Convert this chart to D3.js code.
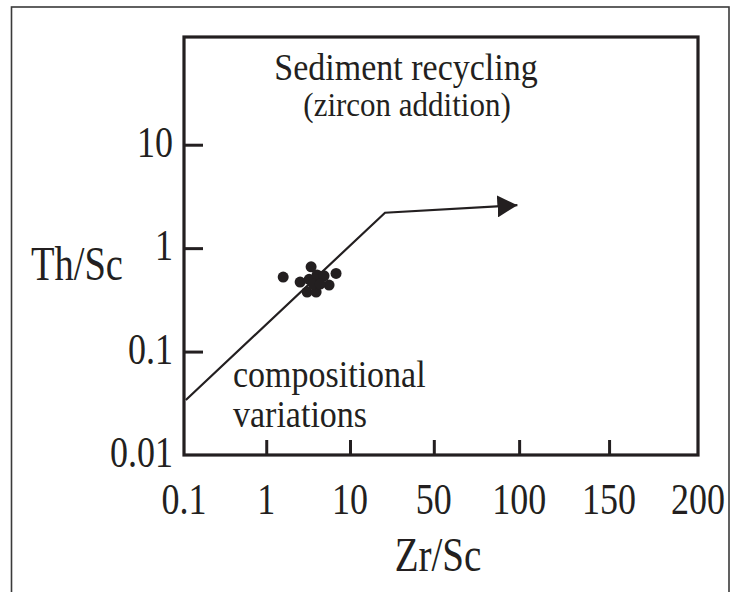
<!DOCTYPE html>
<html>
<head>
<meta charset="utf-8">
<script src="https://cdn.jsdelivr.net/npm/d3@7"></script>
<style>
  html, body { margin: 0; padding: 0; background: #fff; }
  svg { display: block; }
  text { font-family: "Liberation Serif", "Times New Roman", serif; fill: #231f20; }
</style>
</head>
<body>
<div id="chart"></div>
<script>
// ---- data ----
const xTickValues = [0.1, 1, 10, 50, 100, 150, 200];
const xTickLabels = ["0.1", "1", "10", "50", "100", "150", "200"];
const yTickValues = [0.01, 0.1, 1, 10];
const yTickLabels = ["0.01", "0.1", "1", "10"];

// sample points (Zr/Sc, Th/Sc)
const zrSc = [2.82, 5.82, 8.5, 4.64, 5.61, 6.46, 7.21, 7.75, 5.39, 6.36, 6.04, 6.79];
const thSc = [0.525, 0.66, 0.57, 0.47, 0.50, 0.55, 0.54, 0.44, 0.376, 0.376, 0.45, 0.45];

// trend (compositional variations -> sediment recycling)
const trendZr = [0.12, 26.7, 99];
const trendTh = [0.034, 2.2, 2.6];

const annotations = ["Sediment recycling", "(zircon addition)", "compositional", "variations"];
const xTitle = "Zr/Sc";
const yTitle = "Th/Sc";

// ---- layout ----
const W = 730, H = 592;
const pLeft = 184, pRight = 698, pTop = 37, pBottom = 455;
const xFrac = [0, 0.16, 0.323, 0.486, 0.652, 0.827, 1];
const ink = "#231f20";
const axisStretch = 1.25;   // tall, condensed-looking glyphs of the original
const noteStretch = 1.1;

const svg = d3.select("#chart").append("svg").attr("width", W).attr("height", H);

function addText(g, tx, ty, str, size, anchor, stretch) {
  return g.append("text")
    .attr("transform", `translate(${tx},${ty}) scale(1,${stretch})`)
    .attr("text-anchor", anchor)
    .attr("font-size", size)
    .text(str);
}

// outer frame
svg.append("rect")
  .attr("x", 11.5).attr("y", 7).attr("width", 717.5).attr("height", 600)
  .attr("fill", "none").attr("stroke", "#3a3a3a").attr("stroke-width", 1.6);

const x = d3.scaleLinear()
  .domain(xTickValues)
  .range(xFrac.map(f => pLeft + f * (pRight - pLeft)));
const y = d3.scaleLog().domain([0.01, 110]).range([pBottom, pTop]);

// plot box
svg.append("rect")
  .attr("x", pLeft).attr("y", pTop)
  .attr("width", pRight - pLeft).attr("height", pBottom - pTop)
  .attr("fill", "none").attr("stroke", ink).attr("stroke-width", 3.2);

// x axis (ticks inward)
const xAxis = d3.axisTop(x)
  .tickValues(xTickValues.slice(1, -1))
  .tickSize(15).tickFormat("");
const gx = svg.append("g").attr("transform", `translate(0,${pBottom})`).call(xAxis);
gx.select(".domain").remove();
gx.selectAll("line").attr("stroke", ink).attr("stroke-width", 3);

// y axis (ticks inward)
const yAxis = d3.axisRight(y)
  .tickValues(yTickValues.slice(1))
  .tickSize(19).tickFormat("");
const gy = svg.append("g").attr("transform", `translate(${pLeft},0)`).call(yAxis);
gy.select(".domain").remove();
gy.selectAll("line").attr("stroke", ink).attr("stroke-width", 3);

// x tick labels
const gxl = svg.append("g");
xTickValues.forEach((v, i) => addText(gxl, x(v), 514, xTickLabels[i], 36, "middle", axisStretch));

// y tick labels
const gyl = svg.append("g");
yTickValues.forEach((v, i) => addText(gyl, pLeft - 11, y(v) + 12, yTickLabels[i], 36, "end", axisStretch));

// axis titles
addText(svg, 438, 571, xTitle, 39, "middle", axisStretch);
addText(svg, 31, 280, yTitle, 38.5, "start", axisStretch);

// annotations
addText(svg, 406, 80, annotations[0], 34, "middle", noteStretch);
addText(svg, 407, 116, annotations[1], 31, "middle", noteStretch);
addText(svg, 233, 387, annotations[2], 34, "start", noteStretch);
addText(svg, 233, 427, annotations[3], 34, "start", noteStretch);

// arrow marker
svg.append("defs").append("marker")
  .attr("id", "arrow")
  .attr("markerUnits", "userSpaceOnUse")
  .attr("viewBox", "0 0 20 22")
  .attr("refX", 20).attr("refY", 11)
  .attr("markerWidth", 20).attr("markerHeight", 22)
  .attr("orient", "auto")
  .append("path")
  .attr("d", "M0,0 L20,11 L0,22 Z")
  .attr("fill", ink);

// trend line
const line = d3.line().x(d => x(d[0])).y(d => y(d[1]));
svg.append("path")
  .datum(trendZr.map((d, i) => [d, trendTh[i]]))
  .attr("d", line)
  .attr("fill", "none")
  .attr("stroke", ink)
  .attr("stroke-width", 2.2)
  .attr("marker-end", "url(#arrow)");

// sample points
svg.append("g").selectAll("circle")
  .data(zrSc.map((d, i) => [d, thSc[i]]))
  .join("circle")
  .attr("cx", d => x(d[0]))
  .attr("cy", d => y(d[1]))
  .attr("r", 5.5)
  .attr("fill", ink);
</script>
</body>
</html>
